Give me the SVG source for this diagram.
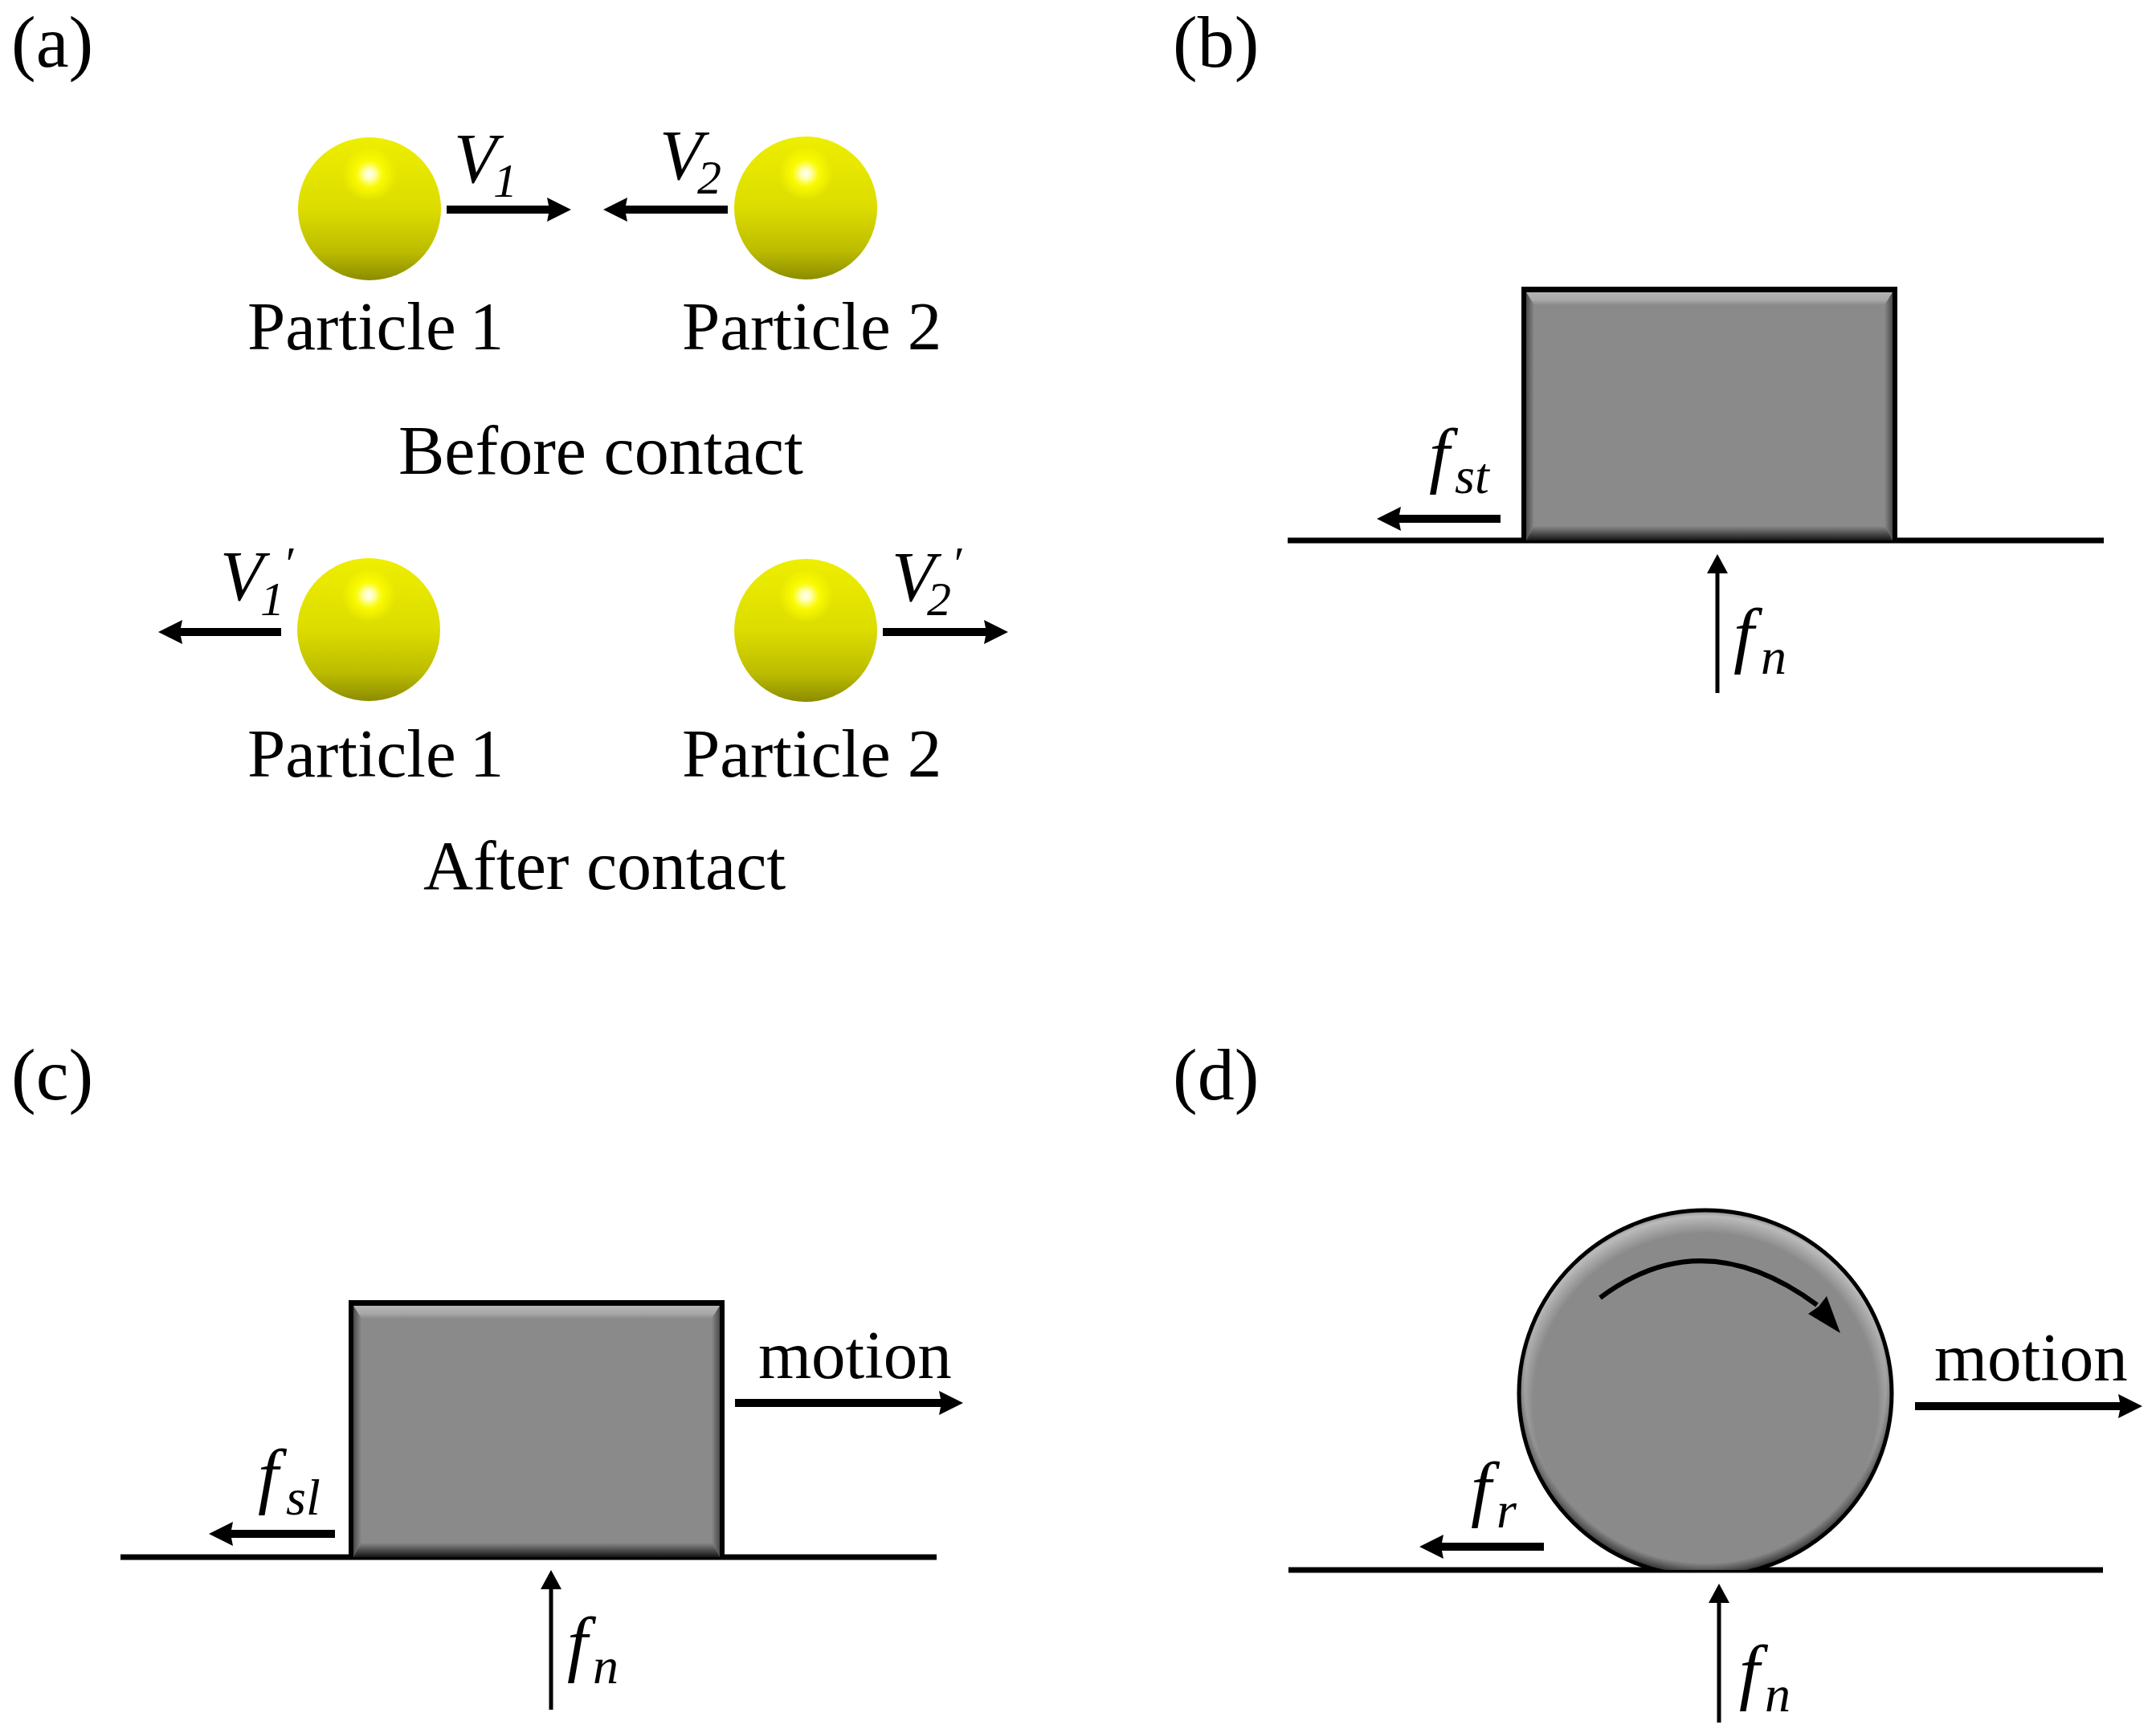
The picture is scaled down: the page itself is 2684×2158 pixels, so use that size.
<svg xmlns="http://www.w3.org/2000/svg" width="2684" height="2158" viewBox="0 0 2684 2158">
<style>
text{font-family:"Liberation Serif","Times New Roman",serif;fill:#000}
.t{font-size:85px}.one{word-spacing:-4px}.c{font-size:86px}.p{font-size:92px}.m{font-size:85px}
.v{font-size:88px;font-style:italic}.vs{font-size:60px;font-style:italic}
.f{font-size:92px;font-style:italic}.fs{font-size:64px;font-style:italic}
.gr{stroke:#000;stroke-width:7;fill:none}
.th{stroke:#000;stroke-width:10;fill:none}
.tn{stroke:#000;stroke-width:5;fill:none}
.oa{marker-end:url(#hk)}.ob{marker-end:url(#hn)}
</style>
<defs>
<marker id="hk" markerUnits="userSpaceOnUse" markerWidth="34" markerHeight="34" refX="4" refY="16" orient="auto"><path d="M0,1 L30,16 L0,31 L3,16z" fill="#000"/></marker>
<marker id="hn" markerUnits="userSpaceOnUse" markerWidth="28" markerHeight="28" refX="3" refY="14" orient="auto"><path d="M0,1 L24,14 L0,27z" fill="#000"/></marker>
<linearGradient id="ys" x1="0" y1="0" x2="0" y2="1"><stop offset="0" stop-color="#eeee00"/><stop offset=".5" stop-color="#dcdc00"/><stop offset=".8" stop-color="#bcbc00"/><stop offset="1" stop-color="#8c8c00"/></linearGradient>
<radialGradient id="yh"><stop offset="0" stop-color="#fff"/><stop offset=".22" stop-color="#ffffa0"/><stop offset=".5" stop-color="#ffff00" stop-opacity=".8"/><stop offset="1" stop-color="#ffff00" stop-opacity="0"/></radialGradient>
<linearGradient id="top" x1="0" y1="0" x2="0" y2="1"><stop offset="0" stop-color="#b4b4b4"/><stop offset=".6" stop-color="#a8a8a8"/><stop offset="1" stop-color="#8a8a8a"/></linearGradient>
<linearGradient id="bot" x1="0" y1="0" x2="0" y2="1"><stop offset="0" stop-color="#8a8a8a"/><stop offset=".55" stop-color="#4a4a4a"/><stop offset="1" stop-color="#151515"/></linearGradient>
<linearGradient id="lf" x1="0" y1="0" x2="1" y2="0"><stop offset="0" stop-color="#4a4a4a"/><stop offset="1" stop-color="#8a8a8a"/></linearGradient>
<linearGradient id="rt" x1="0" y1="0" x2="1" y2="0"><stop offset="0" stop-color="#8a8a8a"/><stop offset="1" stop-color="#4a4a4a"/></linearGradient>
<radialGradient id="dl" cx=".5" cy=".525" r=".525"><stop offset=".88" stop-color="#c0c0c0" stop-opacity="0"/><stop offset=".97" stop-color="#c0c0c0" stop-opacity=".9"/><stop offset="1" stop-color="#808080"/></radialGradient>
<radialGradient id="dd" cx=".5" cy=".48" r=".52"><stop offset=".93" stop-color="#303030" stop-opacity="0"/><stop offset="1" stop-color="#202020"/></radialGradient>
<clipPath id="dc"><rect x="1880" y="1490" width="490" height="465"/></clipPath>
<g id="ball"><circle r="89" fill="url(#ys)"/><circle cy="-43" r="34" fill="url(#yh)"/></g>
</defs>
<rect width="2684" height="2158" fill="#fff"/>

<g id="panel-labels">
<text class="p" x="14" y="83">(a)</text>
<text class="p" x="1460" y="83">(b)</text>
<text class="p" x="14" y="1369">(c)</text>
<text class="p" x="1460" y="1369">(d)</text>
</g>

<g id="particle-1-before"><use href="#ball" x="460" y="260"/><text class="t one" x="308" y="435">Particle 1</text></g>
<g id="particle-2-before"><use href="#ball" x="1003" y="259"/><text class="t" x="849" y="435">Particle 2</text></g>
<g id="caption-before"><text class="c" x="496" y="590">Before contact</text></g>
<g id="particle-1-after"><use href="#ball" x="459" y="784"/><text class="t one" x="308" y="967">Particle 1</text></g>
<g id="particle-2-after"><use href="#ball" x="1003" y="785"/><text class="t" x="849" y="967">Particle 2</text></g>
<g id="caption-after"><text class="c" x="527" y="1107">After contact</text></g>

<g id="block-b">
<line class="gr" x1="1603" y1="673" x2="2619" y2="673"/>
<rect x="1894" y="357" width="468" height="319" fill="#000"/>
<rect x="1900" y="364" width="456" height="309" fill="#8a8a8a"/>
<polygon points="1900,364 2356,364 2346,380 1910,380" fill="url(#top)"/>
<polygon points="1900,364 1910,380 1910,660 1900,673" fill="url(#lf)"/>
<polygon points="2356,364 2346,380 2346,660 2356,673" fill="url(#rt)"/>
<polygon points="1900,673 1910,655 2346,655 2356,673" fill="url(#bot)"/>
</g>

<g id="block-c">
<line class="gr" x1="150" y1="1939" x2="1166" y2="1939"/>
<rect x="434" y="1619" width="468" height="323" fill="#000"/>
<rect x="440" y="1626" width="456" height="313" fill="#8a8a8a"/>
<polygon points="440,1626 896,1626 886,1642 450,1642" fill="url(#top)"/>
<polygon points="440,1626 450,1642 450,1926 440,1939" fill="url(#lf)"/>
<polygon points="896,1626 886,1642 886,1926 896,1939" fill="url(#rt)"/>
<polygon points="440,1939 450,1921 886,1921 896,1939" fill="url(#bot)"/>
</g>

<g id="disc-d">
<line class="gr" x1="1604" y1="1955" x2="2618" y2="1955"/>
<g clip-path="url(#dc)">
<ellipse cx="2123" cy="1735" rx="232" ry="228" fill="#8a8a8a"/>
<ellipse cx="2123" cy="1735" rx="232" ry="228" fill="url(#dl)"/>
<ellipse cx="2123" cy="1735" rx="232" ry="228" fill="url(#dd)"/>
<ellipse cx="2123" cy="1735" rx="232" ry="228" fill="none" stroke="#000" stroke-width="5"/>
</g>
</g>

<g id="connectors">
<line class="th oa" x1="556" y1="261" x2="685" y2="261"/>
<line class="th oa" x1="906" y1="261" x2="777" y2="261"/>
<line class="th oa" x1="350" y1="787" x2="223" y2="787"/>
<line class="th oa" x1="1099" y1="787" x2="1229" y2="787"/>
<line class="th oa" x1="1868" y1="646" x2="1740" y2="646"/>
<line class="tn ob" x1="2138" y1="863" x2="2138" y2="711"/>
<line class="th oa" x1="915" y1="1747" x2="1173" y2="1747"/>
<line class="th oa" x1="417" y1="1910" x2="286" y2="1910"/>
<line class="tn ob" x1="686" y1="2129" x2="686" y2="1976"/>
<line class="th oa" x1="2384" y1="1751" x2="2641" y2="1751"/>
<line class="th oa" x1="1922" y1="1926" x2="1793" y2="1926"/>
<line class="tn ob" x1="2140" y1="2145" x2="2140" y2="1993"/>
<path d="M1992,1616 Q2120,1520 2262,1625" fill="none" stroke="#000" stroke-width="6"/>
<polygon points="2291,1660 2251,1636 2264,1627 2274,1614" fill="#000"/>
</g>

<g id="labels">
<text class="v" x="565" y="227">V</text><text class="vs" x="614" y="245">1</text>
<text class="v" x="821" y="223">V</text><text class="vs" x="868" y="241">2</text>
<text class="v" x="274" y="747">V</text><text class="vs" x="324" y="766">1</text><text class="vs" x="352" y="722">′</text>
<text class="v" x="1110" y="748">V</text><text class="vs" x="1154" y="766">2</text><text class="vs" x="1184" y="722">′</text>
<text class="f" x="1779" y="597">f</text><text class="fs" x="1811" y="614">st</text>
<text class="f" x="2158" y="821">f</text><text class="fs" x="2192" y="839">n</text>
<text class="m" x="944" y="1716">motion</text>
<text class="f" x="321" y="1868">f</text><text class="fs" x="356" y="1886">sl</text>
<text class="f" x="706" y="2077">f</text><text class="fs" x="738" y="2096">n</text>
<text class="m" x="2408" y="1719">motion</text>
<text class="f" x="1831" y="1884">f</text><text class="fs" x="1863" y="1902">r</text>
<text class="f" x="2165" y="2112">f</text><text class="fs" x="2197" y="2131">n</text>
</g>
</svg>
